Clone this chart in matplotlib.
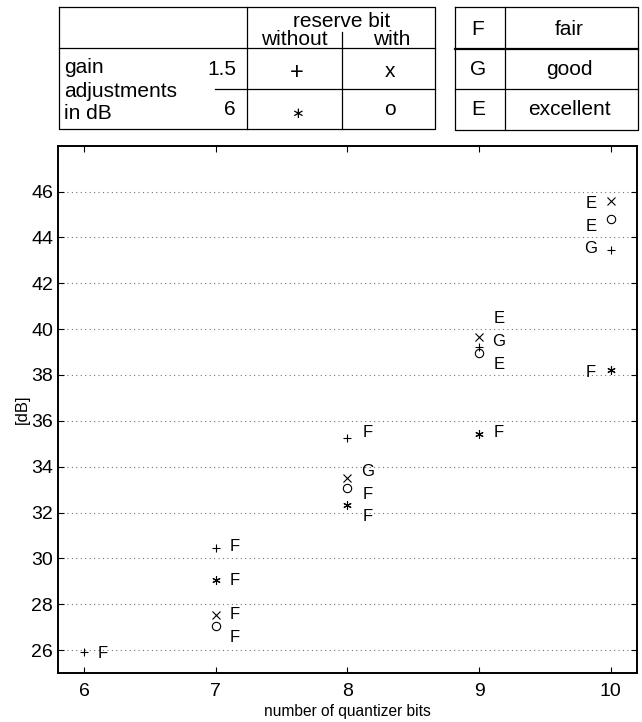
import matplotlib.pyplot as plt

plt.rcParams['font.family'] = ['Liberation Sans', 'DejaVu Sans']

# quantizer bits vs. SNR [dB], one list per marker
bits_plus = [6, 7, 8, 9, 10]           # gain 1.5 dB, without reserve bit
db_plus = [25.93, 30.47, 35.23, 39.22, 43.43]
bits_x = [7, 8, 9, 10]                 # gain 1.5 dB, with reserve bit
db_x = [27.52, 33.51, 39.64, 45.6]
bits_star = [7, 8, 9, 10]              # gain 6 dB, without reserve bit
db_star = [29.05, 32.33, 35.42, 38.22]
bits_o = [7, 8, 9, 10]                 # gain 6 dB, with reserve bit
db_o = [27.04, 33.07, 38.94, 44.8]

# quality ratings written beside the points
rating_x = [6.14, 7.14, 7.14, 7.14, 7.14, 8.15, 8.15, 8.15, 8.15,
            9.15, 9.15, 9.15, 9.15, 9.85, 9.85, 9.85, 9.85]
rating_y = [25.83, 30.5, 29.02, 27.55, 26.55, 35.47, 33.77, 32.77, 31.81,
            40.47, 39.48, 38.47, 35.47, 45.46, 44.48, 43.5, 38.1]
rating_txt = ['F', 'F', 'F', 'F', 'F', 'F', 'G', 'F', 'F',
              'E', 'G', 'E', 'F', 'E', 'E', 'G', 'F']

yticks = [26, 28, 30, 32, 34, 36, 38, 40, 42, 44, 46]
xticks = [6, 7, 8, 9, 10]

fig = plt.figure(figsize=(6.42, 7.22), dpi=100)

# ---- tables at the top, drawn in pixel coordinates ----
top = fig.add_axes([0, 0, 1, 1])
top.set_xlim(0, 642)
top.set_ylim(722, 0)
top.axis('off')
lw = 0.9
k = dict(color='black', lw=lw)
# left table
top.plot([59, 435, 435, 59, 59], [7.3, 7.3, 129, 129, 7.3], **k)
top.plot([59, 435], [48, 48], **k)
top.plot([247, 247], [7.3, 129], **k)
top.plot([342, 342], [32, 129], **k)
top.plot([215, 435], [88.7, 88.7], **k)
# right table
top.plot([455, 638, 638, 455, 455], [7.3, 7.3, 130, 130, 7.3], **k)
top.plot([505, 505], [7.3, 130], **k)
top.plot([455, 638], [49, 49], color='black', lw=1.6)
top.plot([455, 638], [89, 89], **k)

fs = 15
top.text(342, 27, 'reserve bit', ha='center', va='baseline', fontsize=fs)
top.text(294, 45, 'without', ha='center', va='baseline', fontsize=fs)
top.text(392, 45, 'with', ha='center', va='baseline', fontsize=fs)
top.text(64, 73, 'gain', ha='left', va='baseline', fontsize=fs)
top.text(64, 97, 'adjustments', ha='left', va='baseline', fontsize=fs)
top.text(64, 119, 'in dB', ha='left', va='baseline', fontsize=fs)
top.text(236, 75, '1.5', ha='right', va='baseline', fontsize=fs)
top.text(236, 115, '6', ha='right', va='baseline', fontsize=fs)
top.text(297, 79, '+', ha='center', va='baseline', fontsize=17)
top.text(390, 77, 'x', ha='center', va='baseline', fontsize=fs)
top.text(297, 113, '∗', ha='center', va='center', fontsize=11, family='DejaVu Sans')
top.text(390, 115, 'o', ha='center', va='baseline', fontsize=fs)
for label, word, yy in [('F', 'fair', 35), ('G', 'good', 75), ('E', 'excellent', 115)]:
    top.text(478, yy, label, ha='center', va='baseline', fontsize=fs)
    top.text(569, yy, word, ha='center', va='baseline', fontsize=fs)

# ---- main plot ----
ax = fig.add_axes([58 / 642, 49 / 722, 579 / 642, 527.3 / 722])
ms = 6
mk = dict(linestyle='none', color='black', markeredgewidth=0.8, markersize=ms)
ax.plot(bits_plus, db_plus, marker='+', **mk)
ax.plot(bits_x, db_x, marker='x', **mk)
ax.plot(bits_star, db_star, marker=(6, 2, 0), **mk)
ax.plot(bits_o, db_o, marker='o', markerfacecolor='none', **mk)

for xx, yy, t in zip(rating_x, rating_y, rating_txt):
    ax.text(xx, yy, t, ha='center', va='center', fontsize=12)

ax.set_xlim(5.8, 10.2)
ax.set_ylim(25, 48)
ax.set_xticks(xticks)
ax.set_yticks(yticks)
ax.tick_params(direction='in', top=True, right=True, length=4, width=0.8,
               labelsize=14)
ax.tick_params(axis='x', pad=7)
ax.tick_params(axis='y', pad=3.5)
ax.grid(axis='y', linestyle=(0, (1, 3)), color='0.45', linewidth=0.8)
for s in ax.spines.values():
    s.set_linewidth(1.4)
ax.set_xlabel('number of quantizer bits', fontsize=11.2, labelpad=3)
ax.set_ylabel('[dB]', fontsize=12, labelpad=1)

fig.savefig('out.png', dpi=100)
